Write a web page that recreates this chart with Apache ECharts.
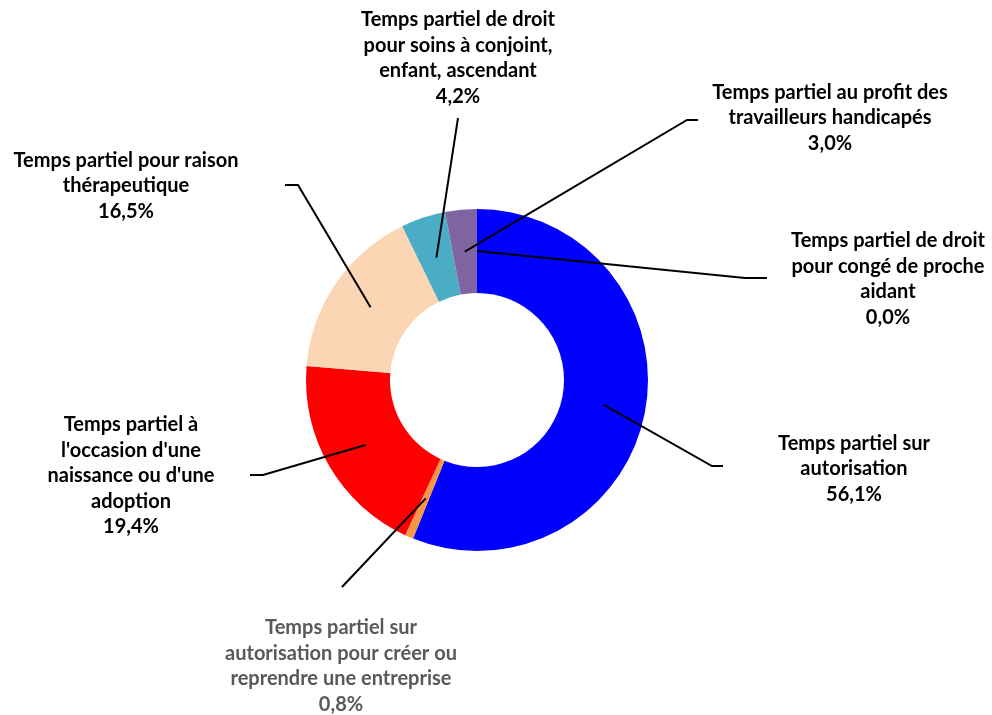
<!DOCTYPE html>
<html>
<head>
<meta charset="utf-8">
<script src="https://cdn.jsdelivr.net/npm/echarts@6/dist/echarts.min.js"></script>
<style>
  html, body { margin: 0; padding: 0; background: #ffffff; }
  #chart { width: 992px; height: 715px; }
</style>
</head>
<body>
<div id="chart"></div>
<script>
// Répartition des temps partiels par motif (en %)
const categories = [
  'Temps partiel sur\nautorisation',
  'Temps partiel sur\nautorisation pour créer ou\nreprendre une entreprise',
  "Temps partiel à\nl'occasion d'une\nnaissance ou d'une\nadoption",
  'Temps partiel pour raison\nthérapeutique',
  'Temps partiel de droit\npour soins à conjoint,\nenfant, ascendant',
  'Temps partiel au profit des\ntravailleurs handicapés',
  'Temps partiel de droit\npour congé de proche\naidant'
];
const shares = [56.1, 0.8, 19.4, 16.5, 4.2, 3.0, 0.0];
const sliceColors = ['#0000FF', '#F79646', '#FF0000', '#FCD5B5', '#4BACC6', '#8064A2', '#9BBB59'];
const labelColors = ['#000000', '#595959', '#000000', '#000000', '#000000', '#000000', '#000000'];

// Donut geometry (pixels)
const CENTER = [477, 380];
const INNER_R = 87;
const OUTER_R = 171;
const LEADER_R = (INNER_R + OUTER_R) / 2;

// Label placement: text block centre, then the leader's elbow and end beside the block
const labelPlacement = [
  { x: 854, y: 469, elbow: [712, 466], end: [723, 466] },
  { x: 341, y: 666, elbow: [342, 587], end: [342, 587] },
  { x: 131, y: 476, elbow: [263, 475], end: [250, 475] },
  { x: 126, y: 186, elbow: [298, 185], end: [285, 185] },
  { x: 458, y: 58,  elbow: [458, 118], end: [458, 118] },
  { x: 830, y: 118, elbow: [687, 120], end: [698, 120] },
  { x: 888, y: 279, elbow: [745, 278], end: [767, 278] }
];

function formatShare(v) {
  return v.toFixed(1).replace('.', ',') + '%';
}

const chart = echarts.init(document.getElementById('chart'), null, { renderer: 'canvas' });

const common = {
  type: 'pie',
  center: CENTER,
  radius: [INNER_R, OUTER_R],
  startAngle: 90,
  clockwise: true,
  avoidLabelOverlap: false,
  silent: true,
  emphasis: { disabled: true }
};

chart.setOption({
  animation: false,
  backgroundColor: '#ffffff',
  series: [
    // The ring itself
    Object.assign({}, common, {
      z: 2,
      itemStyle: { borderWidth: 0 },
      label: { show: false },
      labelLine: { show: false },
      data: categories.map((name, i) => ({
        name: name,
        value: shares[i],
        itemStyle: { color: sliceColors[i] }
      }))
    }),
    // Same slices, unfilled, carrying the labels so the leaders sit over the ring
    Object.assign({}, common, {
      z: 5,
      itemStyle: { color: 'rgba(0,0,0,0)', borderWidth: 0 },
      label: {
        show: true,
        position: 'outside',
        overflow: 'none',
        fontFamily: 'Lato',
        fontWeight: 'bold',
        fontSize: 20,
        lineHeight: 25.5,
        formatter: p => p.name + '\n' + formatShare(p.value)
      },
      labelLine: {
        show: true,
        lineStyle: { color: '#000000', width: 2 }
      },
      labelLayout: function (params) {
        const spot = labelPlacement[params.dataIndex];
        const out = {
          x: spot.x,
          y: spot.y,
          align: 'center',
          verticalAlign: 'middle',
          width: 360
        };
        const pts = params.labelLinePoints;
        if (pts && pts[0]) {
          // Start the leader halfway across the ring, on the slice's middle angle
          const k = LEADER_R / OUTER_R;
          const start = [
            CENTER[0] + (pts[0][0] - CENTER[0]) * k,
            CENTER[1] + (pts[0][1] - CENTER[1]) * k
          ];
          out.labelLinePoints = [start, spot.elbow.slice(), spot.end.slice()];
        }
        return out;
      },
      data: categories.map((name, i) => ({
        name: name,
        value: shares[i],
        label: { color: labelColors[i] }
      }))
    })
  ]
});
</script>
</body>
</html>
